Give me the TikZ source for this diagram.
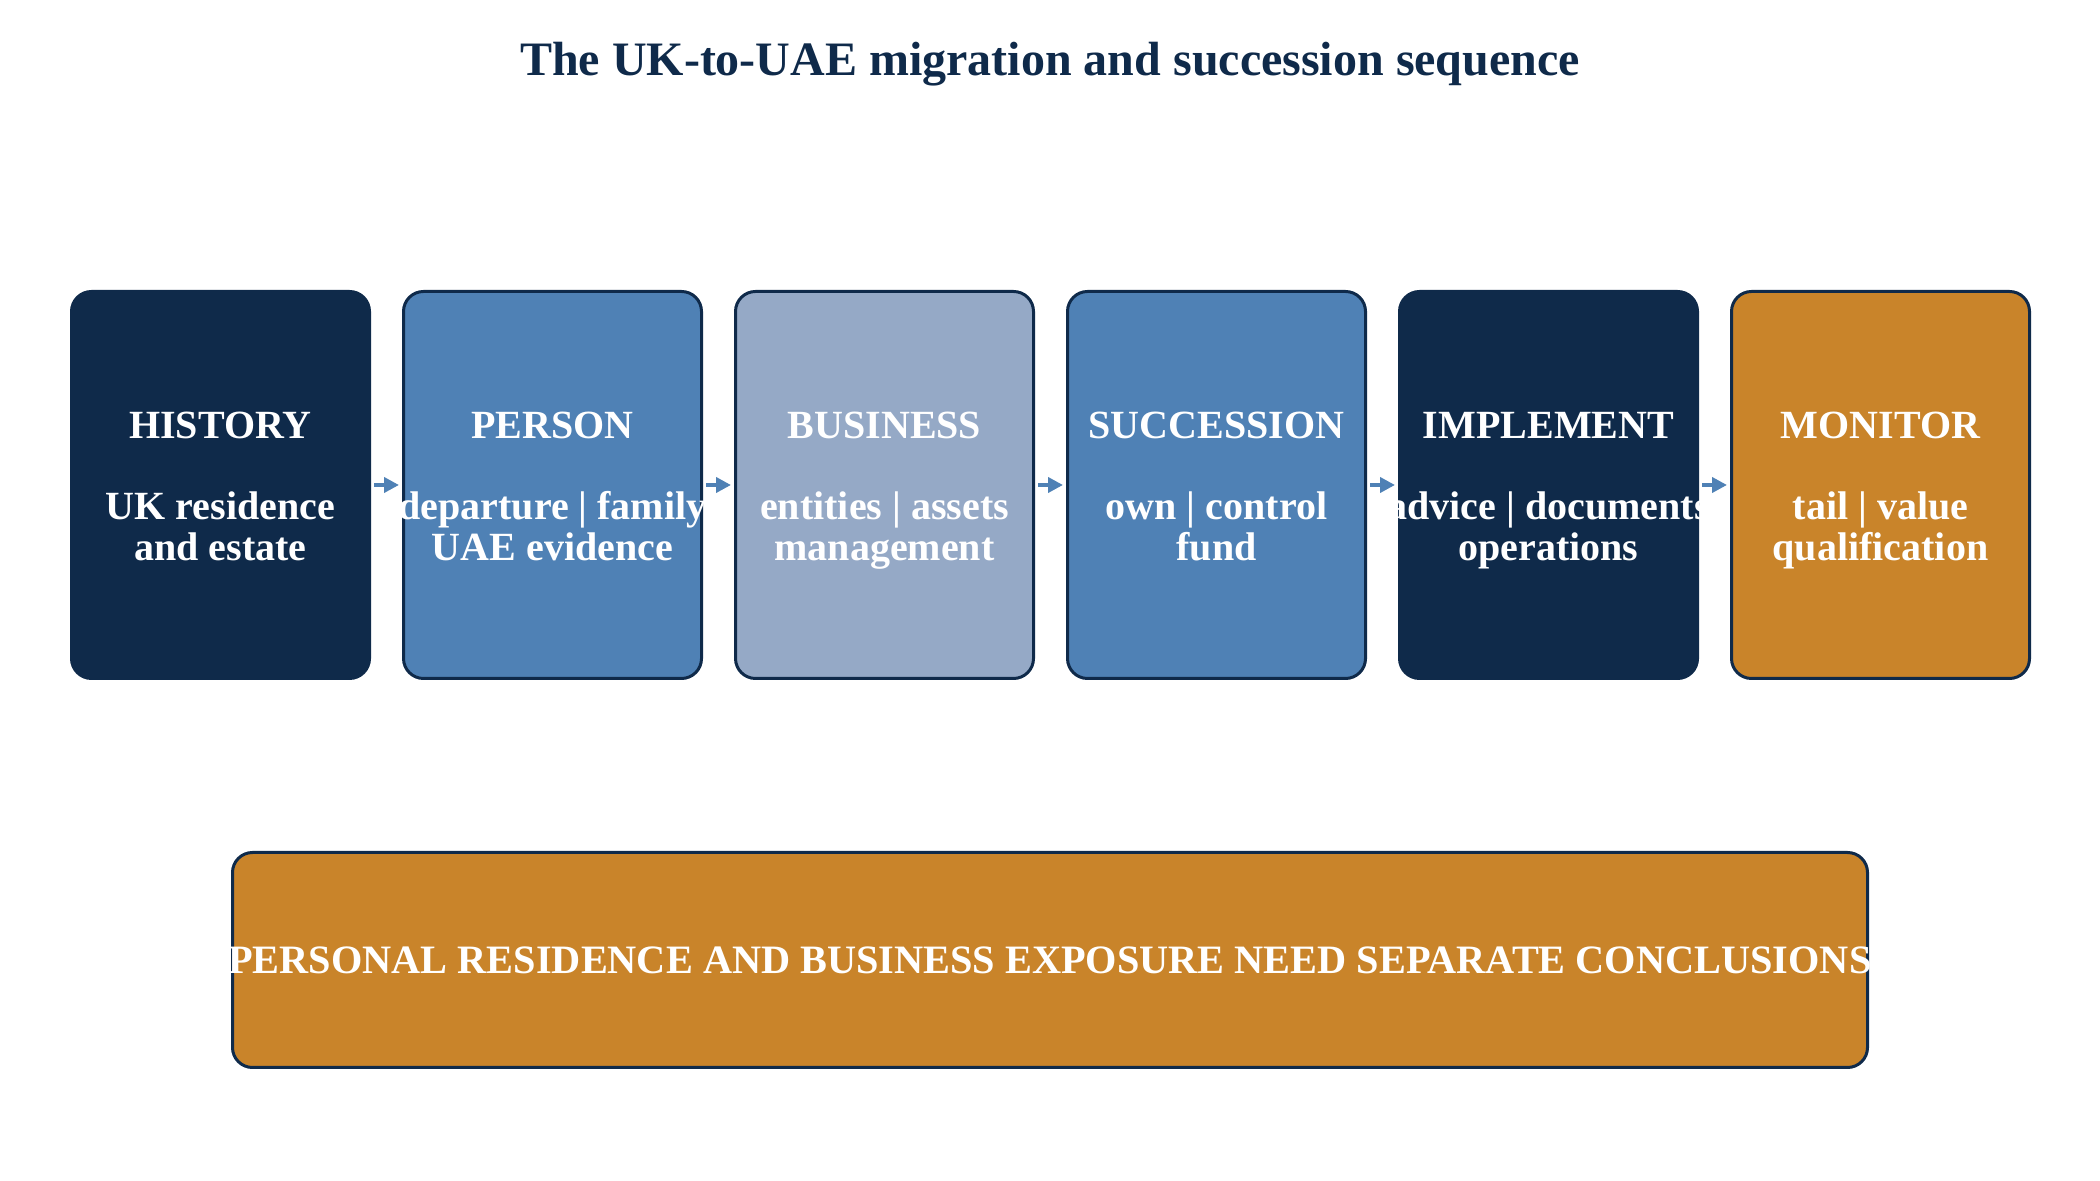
\documentclass[tikz,border=0pt]{standalone}
\usepackage{fontspec}
\setmainfont{Liberation Serif}
\usepackage{xcolor}
\usepackage{tikz}
\usetikzlibrary{positioning}
\usetikzlibrary{arrows.meta}

\definecolor{navy}{HTML}{0F2A4A}
\definecolor{steel}{HTML}{4F81B5}
\definecolor{haze}{HTML}{95A9C6}
\definecolor{amber}{HTML}{C9842A}

\tikzset{
  stage/.style={draw=navy, line width=3pt, rounded corners=20pt, minimum width=298pt, minimum height=387pt, inner sep=0pt},
  stagetext/.style={text=white, align=center, inner sep=0pt, font=\fontsize{40}{40.5}\selectfont\bfseries},
  flow/.style={steel, line width=4.5pt, -{Triangle[length=15pt,width=15pt]}, shorten <=3pt, shorten >=3pt}
}

\begin{document}
\begin{tikzpicture}[x=1pt,y=1pt]
\useasboundingbox (0,0) rectangle (2100,1180);

% Title
\node[anchor=base, text=navy, inner sep=0pt, font=\fontsize{48}{48}\selectfont\bfseries] (title) at (1050,1104) {The UK-to-UAE migration and succession sequence};

% Draw the six stages
\node[stage, fill=navy] (history) at (220.5,695) {};
\node[stage, fill=steel, right=31pt of history] (person) {};
\node[stage, fill=haze, right=31pt of person] (business) {};
\node[stage, fill=steel, right=31pt of business] (succession) {};
\node[stage, fill=navy, right=31pt of succession] (implement) {};
\node[stage, fill=amber, right=31pt of implement] (monitor) {};

% Stage texts
\node[stagetext, yshift=-1.5pt] (historytext) at (history) {HISTORY\\[40.5pt]UK residence\\and estate};
\node[stagetext, yshift=-1.5pt] (persontext) at (person) {PERSON\\[40.5pt]departure | family\\UAE evidence};
\node[stagetext, yshift=-1.5pt] (businesstext) at (business) {BUSINESS\\[40.5pt]entities | assets\\\smash{management}};
\node[stagetext, yshift=-1.5pt] (successiontext) at (succession) {SUCCESSION\\[40.5pt]own | control\\fund};
\node[stagetext, yshift=-1.5pt] (implementtext) at (implement) {IMPLEMENT\\[40.5pt]advice | documents\\\smash{operations}};
\node[stagetext, yshift=-1.5pt] (monitortext) at (monitor) {MONITOR\\[40.5pt]tail | value\\\smash{qualification}};

% Draw arrows
\draw[flow] (history) -- (person);
\draw[flow] (person) -- (business);
\draw[flow] (business) -- (succession);
\draw[flow] (succession) -- (implement);
\draw[flow] (implement) -- (monitor);

% Conclusion box
\node[stage, fill=amber, minimum width=1635pt, minimum height=215pt] (verdict) at (1050,220) {};
\node[stagetext, font=\fontsize{40.3}{40.5}\selectfont\bfseries] (verdicttext) at (verdict) {PERSONAL RESIDENCE AND BUSINESS EXPOSURE NEED SEPARATE CONCLUSIONS};

\end{tikzpicture}
\end{document}
